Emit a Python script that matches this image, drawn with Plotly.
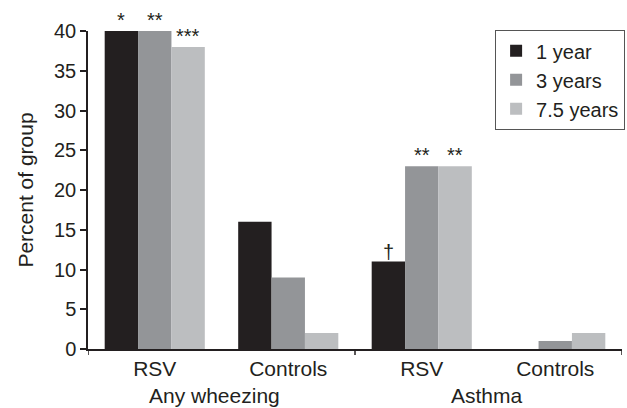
import plotly.graph_objects as go

categories = ["RSV", "Controls", "RSV", "Controls"]
groups = ["Any wheezing", "Asthma"]
series_names = ["1 year", "3 years", "7.5 years"]
year1 = [40, 16, 11, 0]
year3 = [40, 9, 23, 1]
year75 = [38, 2, 23, 2]
marks1 = ["*", "", "†", ""]
marks3 = ["**", "", "**", ""]
marks75 = ["***", "", "**", ""]
y_ticks = [0, 5, 10, 15, 20, 25, 30, 35, 40]

colors = ["#231f20", "#939598", "#bcbec0"]
txt = "#231f20"
font_family = "Liberation Sans, Arial, Helvetica, sans-serif"

xpos = list(range(len(categories)))
fig = go.Figure()
for name, vals, col in zip(series_names, [year1, year3, year75], colors):
    fig.add_trace(go.Bar(x=xpos, y=vals, name=name, marker=dict(color=col, line=dict(width=0))))

bw = 0.25
for offs, vals, marks in [(-bw, year1, marks1), (0, year3, marks3), (bw, year75, marks75)]:
    for i, (v, m) in enumerate(zip(vals, marks)):
        if m:
            fig.add_annotation(x=i + offs, y=v, text=m, showarrow=False, yanchor="middle",
                               yshift=11 if "*" in m else 10,
                               font=dict(size=20, color=txt, family=font_family))

# group labels
for gi, g in enumerate(groups):
    fig.add_annotation(x=gi * 2 + 0.5, y=0, yref="paper", text=g, showarrow=False,
                       yanchor="middle", yshift=-46, xshift=-7 if gi == 0 else -2,
                       font=dict(size=21, color=txt, family=font_family))

# boundary ticks on x axis
for xb in [-0.5, 1.5, 3.5]:
    fig.add_shape(type="line", x0=xb, x1=xb, yref="paper", y0=0, y1=-0.019,
                  line=dict(color=txt, width=1.5))

fig.update_layout(
    width=627, height=408,
    margin=dict(l=88, r=2, t=31, b=59),
    paper_bgcolor="white", plot_bgcolor="white",
    barmode="group", bargap=0.25, bargroupgap=0,
    font=dict(family=font_family, color=txt, size=21),
    showlegend=True,
    legend=dict(x=0.762, y=1.003, xanchor="left", yanchor="top",
                bordercolor="#555555", borderwidth=1.2, bgcolor="white",
                font=dict(size=20, color=txt), tracegroupgap=0, itemwidth=30),
    xaxis=dict(range=[-0.5, 3.5], tickvals=xpos, ticktext=categories, ticks="",
               showline=True, linecolor=txt, linewidth=1.5, showgrid=False, zeroline=False,
               automargin=False, tickfont=dict(size=21, color=txt)),
    yaxis=dict(range=[0, 40], tickvals=y_ticks, ticks="outside", ticklen=6, tickwidth=1.5,
               tickcolor=txt, showline=True, linecolor=txt, linewidth=1.5, showgrid=False,
               zeroline=False, automargin=False, tickfont=dict(size=20, color=txt),
               title=dict(text="Percent of group", font=dict(size=21, color=txt))),
)

fig.write_html("out.html", config={"displayModeBar": False},
               post_script="document.body.style.margin='0';document.body.style.padding='0';document.body.style.overflow='hidden';")
